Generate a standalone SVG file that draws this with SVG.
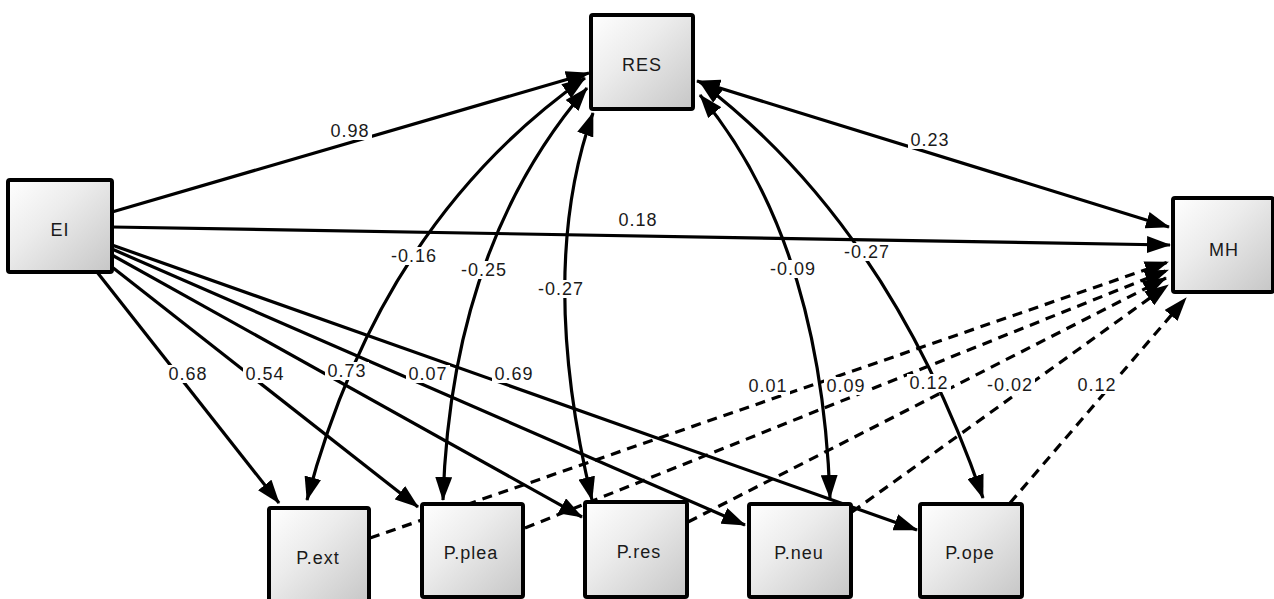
<svg xmlns="http://www.w3.org/2000/svg" width="1274" height="599" viewBox="0 0 1274 599">
<defs>
<linearGradient id="g" x1="0" y1="0" x2="1" y2="1">
<stop offset="0" stop-color="#ffffff"/>
<stop offset="0.4" stop-color="#ececec"/>
<stop offset="1" stop-color="#c6c6c6"/>
</linearGradient>
<marker id="ah" markerUnits="userSpaceOnUse" markerWidth="24" markerHeight="17" refX="23" refY="8.5" orient="auto-start-reverse" viewBox="0 0 24 17">
<path d="M0,0 L24,8.5 L0,17 z" fill="#000"/>
</marker>
</defs>
<style>
.box{fill:url(#g);stroke:#000;stroke-width:4}
.nt{font-family:"Liberation Sans",Arial,sans-serif;font-size:18px;letter-spacing:1px;fill:#1a1a1a;text-anchor:middle}
.c{fill:none;stroke:#000;stroke-width:3.2}
.one{marker-end:url(#ah)}
.two{marker-start:url(#ah);marker-end:url(#ah)}
.d{stroke-dasharray:10 7}
.lb{fill:#fff}
.lt{font-family:"Liberation Sans",Arial,sans-serif;font-size:18px;letter-spacing:1px;fill:#1a1a1a;text-anchor:middle}
</style>
<rect width="1274" height="599" fill="#fff"/>
<g id="connectors">
<path class="c one" d="M112,212 L589,73"/>
<path class="c one" d="M112,227 L1170,245"/>
<path class="c two" d="M697,81 L1169,227"/>
<path class="c one" d="M97,272 L279,503"/>
<path class="c one" d="M112,267 L418,507"/>
<path class="c one" d="M112,255 L582,517"/>
<path class="c one" d="M112,249 L745,525"/>
<path class="c one" d="M112,245 L917,530"/>
<path class="c two" d="M585,78 Q380,223 307,500"/>
<path class="c two" d="M587,88 Q451,246 443,500"/>
<path class="c two" d="M593,113 Q537,270 592,500"/>
<path class="c two" d="M700,95 Q821,240 830,498"/>
<path class="c two" d="M700,82 Q889,226 983,498"/>
<path class="c one d" d="M370,538 L1168,262"/>
<path class="c one d" d="M525,528 L1168,270"/>
<path class="c one d" d="M688,522 L1166,278"/>
<path class="c one d" d="M852,512 L1168,285"/>
<path class="c one d" d="M1010,503 L1186,298"/>
</g>
<g id="labels">
<rect class="lb" x="328" y="122" width="44" height="18"/><text class="lt" x="350" y="137">0.98</text>
<rect class="lb" x="616" y="211" width="44" height="18"/><text class="lt" x="638" y="226">0.18</text>
<rect class="lb" x="908" y="131" width="44" height="18"/><text class="lt" x="930" y="146">0.23</text>
<rect class="lb" x="389" y="247" width="50" height="18"/><text class="lt" x="414" y="262">-0.16</text>
<rect class="lb" x="459" y="261" width="50" height="18"/><text class="lt" x="484" y="276">-0.25</text>
<rect class="lb" x="536" y="280" width="50" height="18"/><text class="lt" x="561" y="295">-0.27</text>
<rect class="lb" x="768" y="260" width="50" height="18"/><text class="lt" x="793" y="275">-0.09</text>
<rect class="lb" x="842" y="243" width="50" height="18"/><text class="lt" x="867" y="258">-0.27</text>
<rect class="lb" x="166" y="365" width="44" height="18"/><text class="lt" x="188" y="380">0.68</text>
<rect class="lb" x="243" y="365" width="44" height="18"/><text class="lt" x="265" y="380">0.54</text>
<rect class="lb" x="325" y="362" width="44" height="18"/><text class="lt" x="347" y="377">0.73</text>
<rect class="lb" x="406" y="365" width="44" height="18"/><text class="lt" x="428" y="380">0.07</text>
<rect class="lb" x="492" y="365" width="44" height="18"/><text class="lt" x="514" y="380">0.69</text>
<rect class="lb" x="746" y="377" width="44" height="18"/><text class="lt" x="768" y="392">0.01</text>
<rect class="lb" x="824" y="377" width="44" height="18"/><text class="lt" x="846" y="392">0.09</text>
<rect class="lb" x="907" y="374" width="44" height="18"/><text class="lt" x="929" y="389">0.12</text>
<rect class="lb" x="985" y="376" width="50" height="18"/><text class="lt" x="1010" y="391">-0.02</text>
<rect class="lb" x="1075" y="376" width="44" height="18"/><text class="lt" x="1097" y="391">0.12</text>
</g>
<g id="RES"><rect class="box" x="591" y="15" width="102" height="94" rx="2"/><text class="nt" x="642" y="71">RES</text></g>
<g id="EI"><rect class="box" x="8" y="180" width="104" height="92" rx="2"/><text class="nt" x="60" y="236">EI</text></g>
<g id="MH"><rect class="box" x="1173" y="198" width="100" height="94" rx="2"/><text class="nt" x="1224" y="256">MH</text></g>
<g id="P.ext"><rect class="box" x="269" y="508" width="100" height="96" rx="2"/><text class="nt" x="318" y="564">P.ext</text></g>
<g id="P.plea"><rect class="box" x="422" y="504" width="101" height="93" rx="2"/><text class="nt" x="471" y="559">P.plea</text></g>
<g id="P.res"><rect class="box" x="585" y="502" width="102" height="95" rx="2"/><text class="nt" x="639" y="558">P.res</text></g>
<g id="P.neu"><rect class="box" x="749" y="504" width="102" height="93" rx="2"/><text class="nt" x="799" y="559">P.neu</text></g>
<g id="P.ope"><rect class="box" x="920" y="504" width="102" height="93" rx="2"/><text class="nt" x="970" y="559">P.ope</text></g>
</svg>
